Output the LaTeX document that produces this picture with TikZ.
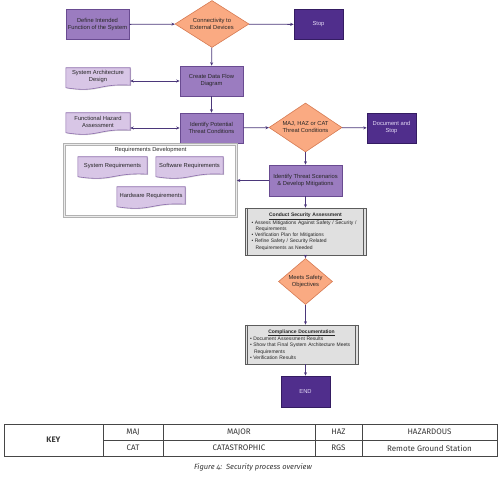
\documentclass[tikz,border=0pt]{standalone}
\usepackage{fontspec}
\setmainfont{Liberation Sans}
\newfontfamily\keyfont{Fira Sans}[Numbers=OldStyle]
\usetikzlibrary{positioning,shapes.geometric,arrows.meta,shadows,backgrounds}
\definecolor{boxpurple}{RGB}{155,124,192}
\definecolor{boxedge}{RGB}{105,75,145}
\definecolor{darkpurple}{RGB}{80,46,140}
\definecolor{darkedge}{RGB}{52,28,98}
\definecolor{darktext}{RGB}{228,218,246}
\definecolor{salmon}{RGB}{250,170,130}
\definecolor{salmonedge}{RGB}{214,122,82}
\definecolor{docfill}{RGB}{216,198,230}
\definecolor{docedge}{RGB}{140,108,172}
\definecolor{greyfill}{RGB}{224,224,224}
\definecolor{greyedge}{RGB}{92,92,92}
\definecolor{flowcol}{RGB}{75,55,122}
\definecolor{tabline}{RGB}{70,70,70}
\definecolor{tabtext}{RGB}{55,55,55}
\newcommand{\bitem}[1]{\par\hyphenpenalty=10000\relax\hangindent=4pt\hangafter=1\noindent\textbullet\hspace{1.5pt}#1\par}
\tikzset{
  every node/.style={font=\fontsize{5.8}{7}\selectfont,align=center,inner sep=0pt,text=black!85},
  procbox/.style={rectangle,draw=boxedge,fill=boxpurple,line width=0.6pt,minimum width=63pt,minimum height=30pt,
    drop shadow={shadow xshift=0.8pt,shadow yshift=-0.8pt,opacity=0.35}},
  stopbox/.style={procbox,draw=darkedge,fill=darkpurple,text=darktext,minimum width=49pt},
  decision/.style={diamond,aspect=1.55,draw=salmonedge,fill=salmon,line width=0.6pt},
  docnode/.style={rectangle,minimum width=64pt,minimum height=18pt},
  docline/.style={draw=docedge,fill=docfill,line width=0.6pt},
  greybox/.style={rectangle,draw=greyedge,fill=greyfill,line width=0.6pt,align=left,
    font=\fontsize{5}{6.3}\selectfont,
    drop shadow={shadow xshift=0.8pt,shadow yshift=-0.8pt,opacity=0.35}},
  flow/.style={draw=flowcol,line width=0.8pt,-{Stealth[length=3.5pt,width=3pt]}},
  keytext/.style={font=\keyfont\fontsize{8}{9}\selectfont,text=tabtext},
}
\begin{document}
\begin{tikzpicture}[x=1pt,y=-1pt]
\useasboundingbox (0,0) rectangle (503,478);
%top row
\node[procbox] (define) at (97.5,24.5) {Define Intended\\Function of the System};
\node[decision,minimum width=74pt,minimum height=47pt] (conn) at (212,24) {Connectivity to\\External Devices};
\node[stopbox] (stop) at (318.5,24.5) {Stop};
%data flow and hazard rows
\node[docnode] (sad) at (98,77) {System Architecture\\Design};
\node[procbox] (cdfd) at (211.5,81) {Create Data Flow\\Diagram};
\node[docnode] (fha) at (98,122) {Functional Hazard\\Assessment};
\node[procbox] (iptc) at (211.5,128) {Identify Potential\\Threat Conditions};
\node[decision,minimum width=73pt,minimum height=49pt] (mhc) at (305.5,127.5) {MAJ, HAZ or CAT\\Threat Conditions};
\node[stopbox] (docstop) at (391.5,128) {Document and\\Stop};
%requirements development
\node[rectangle,draw=black!30,line width=0.5pt,double=black!8,double distance=1.3pt,
  minimum width=172pt,minimum height=72pt] (reqdev) at (150.5,180.5) {};
\node[below=3pt of reqdev.north] (reqlbl) {Requirements Development};
\node[docnode,minimum width=69pt] (sysreq) at (112.5,166) {System Requirements};
\node[docnode,minimum width=67pt] (swreq) at (189.5,166) {Software Requirements};
\node[docnode,minimum width=68pt] (hwreq) at (151,196) {Hardware Requirements};
%lower chain
\node[procbox,minimum width=73pt,minimum height=31pt] (its) at (305.5,180.5) {Identify Threat Scenarios\\\& Develop Mitigations};
\node[greybox,minimum width=121pt,minimum height=47pt,text width=108pt] (csa) at (305.5,231.5)
  {{\centering\underline{\textbf{Conduct Security Assessment}}\par}\raggedright
  \bitem{Assess Mitigations Against Safety / Security /\newline Requirements}
  \bitem{Verification Plan for Mitigations}
  \bitem{Refine Safety / Security Related\newline Requirements as Needed}};
\node[decision,minimum width=54pt,minimum height=46pt] (mso) at (305.5,281.5) {Meets Safety\\Objectives};
\node[greybox,minimum width=113pt,minimum height=39pt,text width=103pt] (comp) at (301.5,344.5)
  {{\centering\underline{\textbf{Compliance Documentation}}\par}\raggedright
  \bitem{Document Assessment Results}
  \bitem{Show that Final System Architecture Meets\newline Requirements}
  \bitem{Verification Results}};
\node[stopbox,minimum height=31pt] (end) at (305.5,391.5) {END};
%document shapes and process side bars
\begin{scope}[on background layer]
\foreach \n in {sad,fha,sysreq,swreq,hwreq}
  \draw[docline,drop shadow={shadow xshift=0.8pt,shadow yshift=-0.8pt,opacity=0.3}]
    ([yshift=-1.5pt]\n.south west) -- (\n.north west) -- (\n.north east) -- ([yshift=1pt]\n.south east)
    .. controls ([yshift=3pt]\n.south) and ([yshift=-7pt]\n.south) .. ([yshift=-1.5pt]\n.south west) -- cycle;
\end{scope}
\foreach \n in {csa,comp}{
  \draw[greyedge,line width=0.6pt] ([xshift=3pt]\n.north west) -- ([xshift=3pt]\n.south west);
  \draw[greyedge,line width=0.6pt] ([xshift=-3pt]\n.north east) -- ([xshift=-3pt]\n.south east);
}
%connectors
\draw[flow] (define) -- (conn);
\draw[flow] (conn) -- (stop);
\draw[flow] (conn) -- (cdfd);
\draw[flow,{Stealth[length=3.5pt,width=3pt]}-{Stealth[length=3.5pt,width=3pt]}] (cdfd.west -| sad.east) -- (cdfd.west);
\draw[flow] (cdfd) -- (iptc);
\draw[flow,{Stealth[length=3.5pt,width=3pt]}-{Stealth[length=3.5pt,width=3pt]}] (iptc.west -| fha.east) -- (iptc.west);
\draw[flow] (iptc) -- (mhc);
\draw[flow] (mhc) -- (docstop);
\draw[flow] (mhc) -- (its);
\draw[flow] (its) -- (reqdev.east |- its.west);
\draw[flow] (its) -- (csa);
\draw[flow] (csa.south -| mso.south) -- (mso);
\draw[flow] (mso.south) -- (mso.south |- comp.north);
\draw[flow] (comp.south -| end.north) -- (end);
%key table
\draw[tabline,line width=0.6pt] (4,424) rectangle (497,456);
\draw[tabline,line width=0.6pt] (103,440) -- (497,440);
\foreach \cx in {103,163,315,362}
  \draw[tabline,line width=0.6pt] (\cx,424) -- (\cx,456);
\node[keytext] (keyhead) at (53.5,440) {\textbf{KEY}};
\node[keytext] (maj) at (133,432) {MAJ};
\node[keytext] (major) at (239,432) {MAJOR};
\node[keytext] (haz) at (338.5,432) {HAZ};
\node[keytext] (hazard) at (429.5,432) {HAZARDOUS};
\node[keytext] (cat) at (133,448) {CAT};
\node[keytext] (catas) at (239,448) {CATASTROPHIC};
\node[keytext] (rgs) at (338.5,448) {RGS};
\node[keytext] (rgsfull) at (429.5,448) {Remote Ground Station};
\node[keytext,font=\keyfont\itshape\fontsize{7.5}{9}\selectfont] (caption) at (253,467) {Figure 4:\ \ Security process overview};
\end{tikzpicture}
\end{document}
